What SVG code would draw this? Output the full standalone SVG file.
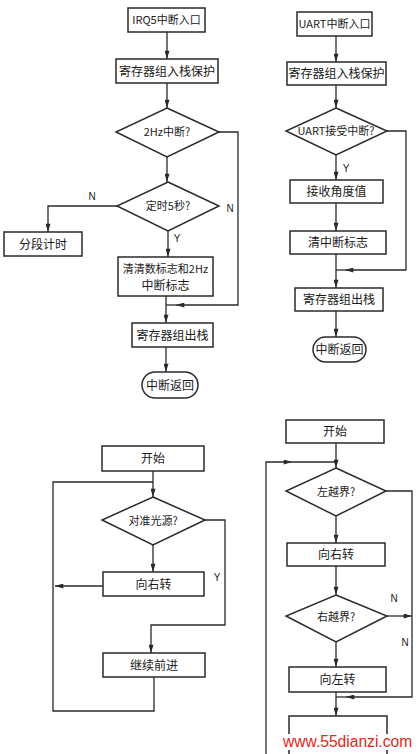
<svg xmlns="http://www.w3.org/2000/svg" width="418" height="754" viewBox="0 0 418 754">
<defs>
<style>
.bx{fill:#fff;stroke:#2a2a2a;stroke-width:1.5}
.ln{fill:none;stroke:#2a2a2a;stroke-width:1.3}
.ar{fill:none;stroke:#2a2a2a;stroke-width:1.3;marker-end:url(#ah)}
.t{font-family:"Noto Sans CJK SC","Noto Sans",sans-serif;font-size:12px;fill:#1a1a1a;text-anchor:middle}
.s{font-size:11px}
.lb{font-family:"Liberation Sans",Arial,sans-serif;font-size:10px;fill:#1a1a1a;text-anchor:middle}
.wm{font-family:"Liberation Sans",Arial,sans-serif;font-size:15.6px;fill:#e0261e}
</style>
<marker id="ah" viewBox="0 0 10 6" refX="10" refY="3" markerWidth="10" markerHeight="5" markerUnits="userSpaceOnUse" orient="auto">
<path d="M0,0 L10,3 L0,6 z" fill="#2a2a2a"/>
</marker>
</defs>
<rect width="418" height="754" fill="#fff"/>

<g id="connectors">
<path class="ar" d="M167,32 V59"/>
<path class="ar" d="M167,83 V108"/>
<path class="ar" d="M167,157 V182"/>
<path class="ar" d="M117,206 H48 V232"/>
<path class="ar" d="M219,132 H238 V305 H176"/>
<path class="ln" d="M176,305 H166"/>
<path class="ar" d="M168,231 V257"/>
<path class="ar" d="M166,296 V323"/>
<path class="ar" d="M166,347 V372"/>
<path class="ar" d="M336,36 V62"/>
<path class="ar" d="M336,85 V108"/>
<path class="ar" d="M336,155 V180"/>
<path class="ar" d="M336,203 V231"/>
<path class="ar" d="M336,254 V288"/>
<path class="ar" d="M387,131 H406 V270 H345"/>
<path class="ln" d="M345,270 H336"/>
<path class="ar" d="M336,311 V337"/>
<path class="ar" d="M153,471 V497"/>
<path class="ln" d="M154,677 V711 H53 V482 H153"/>
<path class="ar" d="M153,545 V572"/>
<path class="ar" d="M103,586 H55"/>
<path class="ar" d="M205,520 H225 V625 H151 V653"/>
<path class="ar" d="M336,443 V468"/>
<path class="ar" d="M266,754 V462 H292"/>
<path class="ln" d="M292,462 H336"/>
<path class="ar" d="M336,516 V543"/>
<path class="ar" d="M336,566 V595"/>
<path class="ar" d="M387,616 H412"/>
<path class="ar" d="M386,491 H412 V697 H346"/>
<path class="ln" d="M346,697 H336"/>
<path class="ar" d="M336,642 V667"/>
<path class="ar" d="M336,692 V716"/>
</g>

<g id="labels">
<text class="lb" x="92" y="200">N</text>
<text class="lb" x="230" y="212">N</text>
<text class="lb" x="177" y="242">Y</text>
<text class="lb" x="346" y="172">Y</text>
<text class="lb" x="217" y="581">Y</text>
<text class="lb" x="394" y="602">N</text>
<text class="lb" x="405" y="646">N</text>
</g>

<g id="irq5-entry"><rect class="bx" x="128" y="8" width="77" height="24"/><text class="t s" x="166.5" y="24">IRQ5中断入口</text></g>
<g id="push1"><rect class="bx" x="116" y="59" width="102" height="24"/><text class="t" x="167" y="75.5">寄存器组入栈保护</text></g>
<g id="d-2hz"><polygon class="bx" points="167,108 219,132 167,157 116,132"/><text class="t s" x="167" y="136">2Hz中断?</text></g>
<g id="d-5s"><polygon class="bx" points="168,182 219,206 168,231 117,206"/><text class="t s" x="168" y="210">定时5秒?</text></g>
<g id="seg-timer"><rect class="bx" x="4" y="232" width="78" height="24"/><text class="t" x="43" y="248.5">分段计时</text></g>
<g id="clear-flags"><rect class="bx" x="118" y="257" width="95" height="39"/><text class="t s" x="165.5" y="273">清清数标志和2Hz</text><text class="t" x="165.5" y="290">中断标志</text></g>
<g id="pop1"><rect class="bx" x="132" y="323" width="81" height="24"/><text class="t" x="172.5" y="339.5">寄存器组出栈</text></g>
<g id="ret1"><rect class="bx" x="142" y="372" width="56" height="26" rx="13"/><text class="t" x="170" y="389.5">中断返回</text></g>

<g id="uart-entry"><rect class="bx" x="297" y="12" width="75" height="24"/><text class="t s" x="334.5" y="28">UART中断入口</text></g>
<g id="push2"><rect class="bx" x="287" y="62" width="99" height="23"/><text class="t" x="336.5" y="78">寄存器组入栈保护</text></g>
<g id="d-uart"><polygon class="bx" points="336,108 387,131 336,155 286,131"/><text class="t s" x="336" y="135">UART接受中断?</text></g>
<g id="recv-angle"><rect class="bx" x="290" y="180" width="93" height="23"/><text class="t" x="336.5" y="196">接收角度值</text></g>
<g id="clear-int"><rect class="bx" x="290" y="231" width="96" height="23"/><text class="t" x="338" y="247">清中断标志</text></g>
<g id="pop2"><rect class="bx" x="295" y="288" width="88" height="23"/><text class="t" x="339" y="304">寄存器组出栈</text></g>
<g id="ret2"><rect class="bx" x="313" y="337" width="53" height="25" rx="12.5"/><text class="t" x="339.5" y="354">中断返回</text></g>

<g id="start1"><rect class="bx" x="102" y="446" width="102" height="25"/><text class="t" x="153" y="463">开始</text></g>
<g id="d-align"><polygon class="bx" points="153,497 205,520 153,545 102,520"/><text class="t s" x="153" y="524.5">对准光源?</text></g>
<g id="turn-right1"><rect class="bx" x="103" y="572" width="101" height="24"/><text class="t" x="153.5" y="588.5">向右转</text></g>
<g id="forward"><rect class="bx" x="103" y="653" width="102" height="24"/><text class="t" x="154" y="669.5">继续前进</text></g>

<g id="start2"><rect class="bx" x="286" y="420" width="98" height="23"/><text class="t" x="335" y="436">开始</text></g>
<g id="d-left"><polygon class="bx" points="336,468 386,491 336,516 286,491"/><text class="t s" x="336" y="495.5">左越界?</text></g>
<g id="turn-right2"><rect class="bx" x="287" y="543" width="98" height="23"/><text class="t" x="336" y="559">向右转</text></g>
<g id="d-right"><polygon class="bx" points="336,595 387,616 336,642 286,616"/><text class="t s" x="336" y="620.5">右越界?</text></g>
<g id="turn-left"><rect class="bx" x="289" y="667" width="97" height="25"/><text class="t" x="337.5" y="684">向左转</text></g>
<g id="next-box"><path class="bx" d="M289,754 V716 H387 V754"/></g>

<g id="watermark">
<rect x="281" y="734" width="134" height="16" fill="#fff"/>
<text class="wm" x="283" y="747">www.55dianzi.com</text>
</g>
</svg>
